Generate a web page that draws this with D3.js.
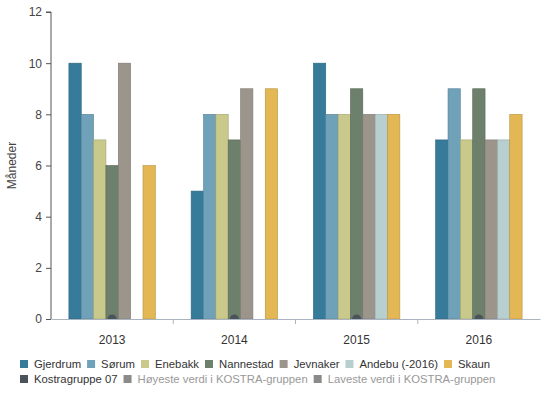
<!DOCTYPE html>
<html><head><meta charset="utf-8">
<script src="https://cdn.jsdelivr.net/npm/d3@7"></script>
<style>body{margin:0;background:#fff;}svg{display:block;font-family:"Liberation Sans",Arial,sans-serif;}</style>
</head><body><svg id="c" width="545" height="400"></svg>
<script>
const categories = ["2013","2014","2015","2016"];
const seriesNames = ["Gjerdrum","Sørum","Enebakk","Nannestad","Jevnaker","Andebu (-2016)","Skaun"];
const seriesColors = ["#367b9a","#6fa1b9","#c9c98b","#6d806b","#9c958c","#b8cfcf","#e3b753"];
const gjerdrum = [10,5,10,7];
const sorum = [8,8,8,9];
const enebakk = [7,8,8,7];
const nannestad = [6,7,9,9];
const jevnaker = [10,9,8,7];
const andebu = [null,null,8,7];
const skaun = [6,9,8,8];
const kostragruppe = [0,0,0,0];
const yTicks = [0,2,4,6,8,10,12];
const legendRow2 = [
  {name:"Kostragruppe 07", color:"#4b535a", text:"#333"},
  {name:"Høyeste verdi i KOSTRA-gruppen", color:"#8a8a8a", text:"#999"},
  {name:"Laveste verdi i KOSTRA-gruppen", color:"#8a8a8a", text:"#999"}
];
const values = [gjerdrum,sorum,enebakk,nannestad,jevnaker,andebu,skaun];

const svg = d3.select("#c");
const m = {l:51, r:540, t:12, b:319};
const x = d3.scaleBand().domain(categories).range([m.l, m.r]);
const x1 = d3.scaleBand().domain(d3.range(seriesNames.length)).range([0, x.bandwidth()]).paddingOuter(1.45).paddingInner(0);
const y = d3.scaleLinear().domain([0,12]).range([m.b, m.t]);

// y axis
const ya = svg.append("g").attr("transform",`translate(${m.l},0)`)
  .call(d3.axisLeft(y).tickValues(yTicks).tickSize(5).tickPadding(4));
ya.select(".domain").attr("stroke","#555").attr("d",`M-5,${m.t}H0V${m.b}`);
ya.selectAll(".tick line").attr("stroke","#555");
ya.selectAll(".tick text").attr("fill","#444").style("font-size","12px");

svg.append("text").attr("transform",`translate(16,${(m.t+m.b)/2}) rotate(-90)`)
  .attr("text-anchor","middle").attr("fill","#444").style("font-size","12px").text("Måneder");

// bars
const clip = svg.append("clipPath").attr("id","pc").append("rect")
  .attr("x",m.l).attr("y",m.t-5).attr("width",m.r-m.l).attr("height",m.b-m.t+5);
const g = svg.append("g");
values.forEach((vals,si)=>{
  g.selectAll(null).data(categories.map((c,i)=>({c,v:vals[i]})).filter(d=>d.v!=null))
    .enter().append("rect")
    .attr("x",d=>x(d.c)+x1(si))
    .attr("y",d=>y(d.v))
    .attr("width",x1.bandwidth())
    .attr("height",d=>y(0)-y(d.v))
    .attr("fill",seriesColors[si])
    .attr("stroke",d3.color(seriesColors[si]).darker(0.6))
    .attr("stroke-width",0.6);
});

// x axis
const xa = svg.append("g").attr("transform",`translate(0,${m.b})`)
  .call(d3.axisBottom(x).tickSize(0).tickPadding(16));
xa.select(".domain").attr("stroke","#aab4c0");
xa.selectAll(".tick text").attr("fill","#333").style("font-size","12px");
svg.append("g").selectAll("line").data(categories.slice(1)).enter().append("line")
  .attr("x1",d=>x(d)).attr("x2",d=>x(d)).attr("y1",m.b).attr("y2",m.b+5).attr("stroke","#aab4c0");

// kostragruppe markers
svg.append("g").attr("clip-path","url(#pc)").selectAll("circle")
  .data(categories.map((c,i)=>({c,v:kostragruppe[i]}))).enter().append("circle")
  .attr("cx",d=>x(d.c)+x.bandwidth()/2).attr("cy",d=>y(d.v)).attr("r",4.5).attr("fill","#4b535a");

// legend
const leg = svg.append("g").style("font-size","11.3px");
function legendRow(items, yy){
  let cx = 20;
  items.forEach(it=>{
    leg.append("rect").attr("x",cx).attr("y",yy-8).attr("width",8).attr("height",8).attr("fill",it.color);
    const t = leg.append("text").attr("x",cx+14).attr("y",yy).attr("fill",it.text).text(it.name);
    cx += 14 + t.node().getComputedTextLength() + 6;
  });
}
legendRow(seriesNames.map((n,i)=>({name:n,color:seriesColors[i],text:"#333"})), 368);
legendRow(legendRow2, 383);
</script></body></html>
